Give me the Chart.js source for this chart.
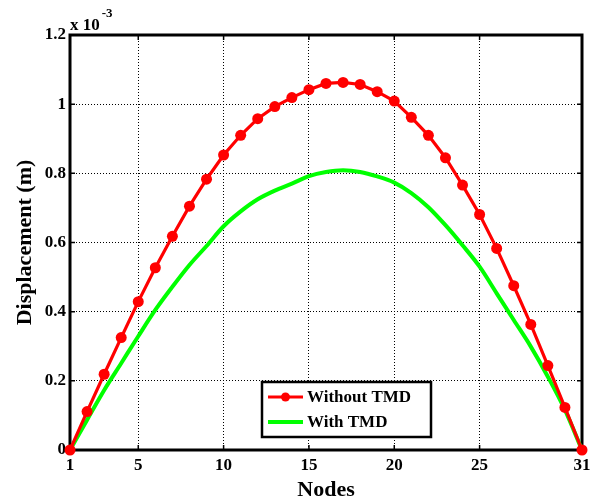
<!DOCTYPE html>
<html>
<head>
<meta charset="utf-8">
<script src="https://cdn.jsdelivr.net/npm/chart.js@4/dist/chart.umd.min.js"></script>
<style>
  html, body { margin: 0; padding: 0; background: #fff; }
  #wrap { width: 591px; height: 504px; }
</style>
</head>
<body>
<div id="wrap"><canvas id="chartNodes"></canvas></div>
<script>
// Node numbers along the beam
const nodes = [1, 2, 3, 4, 5, 6, 7, 8, 9, 10, 11, 12, 13, 14, 15, 16, 17, 18, 19, 20,
  21, 22, 23, 24, 25, 26, 27, 28, 29, 30, 31];
// Displacement in units of 1e-3 m (axis shows "x 10^-3")
const withoutTMD = [0, 0.111, 0.219, 0.325, 0.429, 0.527, 0.618, 0.705, 0.783, 0.853,
  0.910, 0.958, 0.993, 1.019, 1.042, 1.060, 1.063, 1.057, 1.036, 1.009,
  0.962, 0.910, 0.845, 0.766, 0.681, 0.583, 0.475, 0.363, 0.244, 0.123, 0];
const withTMD = [0, 0.087, 0.173, 0.251, 0.329, 0.405, 0.472, 0.535, 0.590, 0.647,
  0.690, 0.725, 0.750, 0.770, 0.792, 0.804, 0.809, 0.804, 0.791, 0.773,
  0.743, 0.702, 0.650, 0.592, 0.530, 0.453, 0.376, 0.299, 0.212, 0.116, 0];
const xTicks = [1, 5, 10, 15, 20, 25, 31];
const yTicks = [0, 0.2, 0.4, 0.6, 0.8, 1.0, 1.2];

const serif = '"Liberation Serif", "Times New Roman", serif';

// Box round the axes with short inward tick marks, like the MATLAB frame
const framePlugin = {
  id: 'frame',
  beforeDatasetsDraw(chart) {
    const { ctx, chartArea: a, scales } = chart;
    ctx.save();
    ctx.strokeStyle = '#000';
    ctx.lineWidth = 1.5;
    scales.x.ticks.forEach(t => {
      const px = scales.x.getPixelForValue(t.value);
      ctx.beginPath();
      ctx.moveTo(px, a.bottom); ctx.lineTo(px, a.bottom - 5);
      ctx.moveTo(px, a.top); ctx.lineTo(px, a.top + 5);
      ctx.stroke();
    });
    scales.y.ticks.forEach(t => {
      const py = scales.y.getPixelForValue(t.value);
      ctx.beginPath();
      ctx.moveTo(a.left, py); ctx.lineTo(a.left + 5, py);
      ctx.moveTo(a.right, py); ctx.lineTo(a.right - 5, py);
      ctx.stroke();
    });
    ctx.lineWidth = 3;
    ctx.strokeRect(a.left, a.top, a.right - a.left, a.bottom - a.top);
    ctx.restore();
  },
  afterDraw(chart) {
    // exponent label above the y axis
    const { ctx, chartArea: a } = chart;
    ctx.save();
    ctx.fillStyle = '#000';
    ctx.textBaseline = 'alphabetic';
    ctx.font = 'bold 17px ' + serif;
    ctx.fillText('x 10', a.left, a.top - 5);
    const w = ctx.measureText('x 10').width;
    ctx.font = 'bold 13px ' + serif;
    ctx.fillText('-3', a.left + w + 2, a.top - 18);
    ctx.restore();
  }
};

// Boxed legend sitting inside the plot, lower middle
const boxLegendPlugin = {
  id: 'boxLegend',
  afterDraw(chart) {
    const { ctx } = chart;
    const x0 = 262, y0 = 382, w = 169, h = 55;
    ctx.save();
    ctx.fillStyle = '#fff';
    ctx.fillRect(x0, y0, w, h);
    ctx.strokeStyle = '#000';
    ctx.lineWidth = 2.5;
    ctx.strokeRect(x0, y0, w, h);
    chart.data.datasets.forEach((ds, i) => {
      const cy = y0 + 15 + i * 25;
      ctx.strokeStyle = ds.borderColor;
      ctx.lineWidth = ds.borderWidth;
      ctx.beginPath();
      ctx.moveTo(x0 + 6, cy); ctx.lineTo(x0 + 41, cy);
      ctx.stroke();
      if (ds.pointRadius > 0) {
        ctx.fillStyle = ds.pointBackgroundColor;
        ctx.beginPath();
        ctx.arc(x0 + 23.5, cy, 4.5, 0, Math.PI * 2);
        ctx.fill();
      }
      ctx.fillStyle = '#000';
      ctx.font = 'bold 17px ' + serif;
      ctx.textBaseline = 'middle';
      ctx.fillText(ds.label, x0 + 45, cy + 1);
    });
    ctx.restore();
  }
};

const tickFont = { family: serif, size: 17, weight: 'bold' };
const titleFont = { family: serif, size: 22, weight: 'bold' };

new Chart(document.getElementById('chartNodes'), {
  type: 'line',
  data: {
    datasets: [
      {
        label: 'Without TMD',
        data: nodes.map((n, i) => ({ x: n, y: withoutTMD[i] })),
        borderColor: '#ff0000',
        backgroundColor: '#ff0000',
        pointBackgroundColor: '#ff0000',
        pointBorderColor: '#ff0000',
        borderWidth: 3.2,
        pointRadius: 5.5,
        pointBorderWidth: 0,
        tension: 0,
        clip: false,
        order: 0,
      },
      {
        label: 'With TMD',
        data: nodes.map((n, i) => ({ x: n, y: withTMD[i] })),
        borderColor: '#00ff00',
        backgroundColor: '#00ff00',
        pointBackgroundColor: '#00ff00',
        borderWidth: 4,
        pointRadius: 0,
        cubicInterpolationMode: 'monotone',
        clip: false,
        order: 1,
      },
    ],
  },
  options: {
    responsive: true,
    maintainAspectRatio: false,
    animation: false,
    layout: { padding: { left: 0, top: 35, right: 9, bottom: 0 } },
    plugins: { legend: { display: false }, tooltip: { enabled: false } },
    scales: {
      x: {
        type: 'linear',
        min: 1,
        max: 31,
        afterBuildTicks: s => { s.ticks = xTicks.map(v => ({ value: v })); },
        afterFit: s => { s.height = 54; s.paddingLeft = 0; s.paddingRight = 0; },
        grid: { color: '#000', lineWidth: 1, drawTicks: false },
        border: { display: false, dash: [1, 2] },
        ticks: { font: tickFont, color: '#000', padding: 5, autoSkip: false, maxRotation: 0 },
        title: { display: true, text: 'Nodes', font: titleFont, color: '#000', padding: { top: 2, bottom: 0 } },
      },
      y: {
        min: 0,
        max: 1.2,
        afterBuildTicks: s => { s.ticks = yTicks.map(v => ({ value: v })); },
        afterFit: s => { s.width = 70; s.paddingTop = 0; s.paddingBottom = 0; },
        grid: { color: '#000', lineWidth: 1, drawTicks: false },
        border: { display: false, dash: [1, 2] },
        ticks: {
          font: tickFont, color: '#000', padding: 4,
          callback: v => String(+v.toFixed(1)),
        },
        title: { display: true, text: 'Displacement (m)', font: titleFont, color: '#000', padding: { top: 12, bottom: 0 } },
      },
    },
  },
  plugins: [framePlugin, boxLegendPlugin],
});
</script>
</body>
</html>
